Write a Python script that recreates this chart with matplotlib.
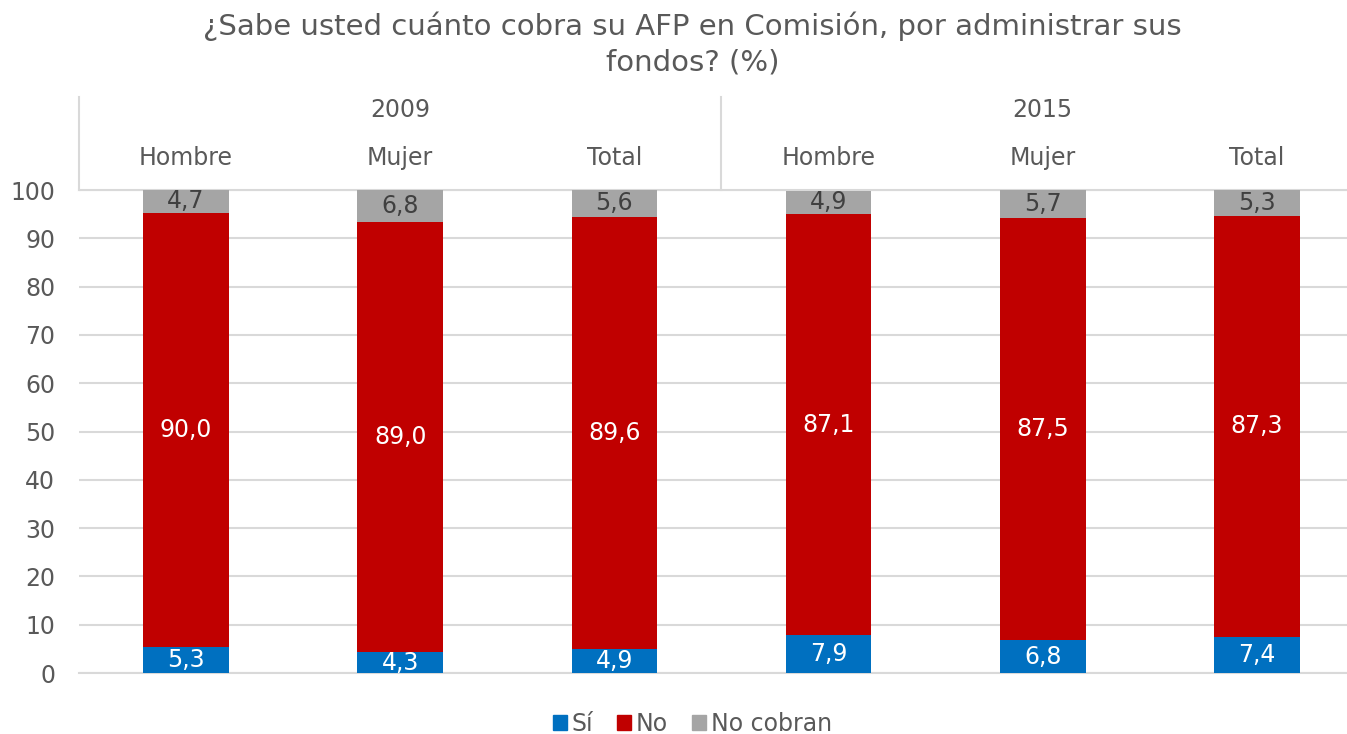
import numpy as np
from matplotlib import pyplot as plt
from matplotlib.patches import Patch

# data
years = ['2009', '2015']
groups = ['Hombre', 'Mujer', 'Total', 'Hombre', 'Mujer', 'Total']
si = [5.3, 4.3, 4.9, 7.9, 6.8, 7.4]
no = [90.0, 89.0, 89.6, 87.1, 87.5, 87.3]
no_cobran = [4.7, 6.8, 5.6, 4.9, 5.7, 5.3]

c_si = '#0070C0'
c_no = '#C00000'
c_nc = '#A5A5A5'
txt = '#595959'
grid_c = '#D9D9D9'
fs = 17

plt.rcParams['font.family'] = ['DejaVu Sans']

fig = plt.figure(figsize=(13.47, 7.34), dpi=100)
ax = fig.add_axes([0.0586, 0.0831, 0.954, 0.658])

x = np.arange(len(groups))
w = 0.4
si = np.array(si)
no = np.array(no)
no_cobran = np.array(no_cobran)

ax.bar(x, si, w, color=c_si, zorder=3)
ax.bar(x, no, w, bottom=si, color=c_no, zorder=3)
ax.bar(x, no_cobran, w, bottom=si + no, color=c_nc, zorder=3)

def fmt(v):
    return f'{v:.1f}'.replace('.', ',')

for i in range(len(groups)):
    ax.text(x[i], si[i] / 2, fmt(si[i]), ha='center', va='center',
            color='white', fontsize=fs, zorder=4)
    ax.text(x[i], si[i] + no[i] / 2, fmt(no[i]), ha='center', va='center',
            color='white', fontsize=fs, zorder=4)
    ax.text(x[i], si[i] + no[i] + no_cobran[i] / 2, fmt(no_cobran[i]),
            ha='center', va='center', color='#404040', fontsize=fs, zorder=4)

ax.set_xlim(-0.5, 5.5)
ax.set_ylim(0, 100)
ax.set_yticks(range(0, 101, 10))
ax.set_xticks([])
ax.tick_params(axis='y', length=0, labelsize=fs, labelcolor=txt, pad=17)
ax.grid(axis='y', color=grid_c, linewidth=1.5, zorder=0)
# edge gridlines would be half clipped otherwise
for yv in (0, 100):
    ax.axhline(yv, color=grid_c, linewidth=1.5, zorder=0, clip_on=False)
for s in ax.spines.values():
    s.set_visible(False)

# category header above the plot
trans = ax.get_xaxis_transform()
for i, g in enumerate(groups):
    ax.text(x[i], 1.066, g, transform=trans, ha='center', va='center',
            fontsize=fs, color=txt)
for j, yr in enumerate(years):
    ax.text(j * 3 + 1, 1.166, yr, transform=trans, ha='center', va='center',
            fontsize=fs, color=txt)
ax.plot([-0.5, -0.5], [1.0, 1.1925], transform=trans, color=grid_c,
        linewidth=1.5, clip_on=False)
ax.plot([2.5, 2.5], [1.0, 1.1925], transform=trans, color=grid_c,
        linewidth=1.5, clip_on=False)

fig.suptitle('¿Sabe usted cuánto cobra su AFP en Comisión, por administrar sus\nfondos? (%)',
             x=0.514, y=0.984, fontsize=21, color=txt, linespacing=1.35)

handles = [Patch(color=c_si, label='Sí'), Patch(color=c_no, label='No'),
           Patch(color=c_nc, label='No cobran')]
leg = fig.legend(handles=handles, loc='lower center', ncol=3, frameon=False,
                 bbox_to_anchor=(0.514, -0.032), fontsize=fs,
                 handlelength=0.6, handleheight=0.6, handletextpad=0.2,
                 columnspacing=1.0)
for t in leg.get_texts():
    t.set_color(txt)

plt.savefig('out.png', dpi=100)
